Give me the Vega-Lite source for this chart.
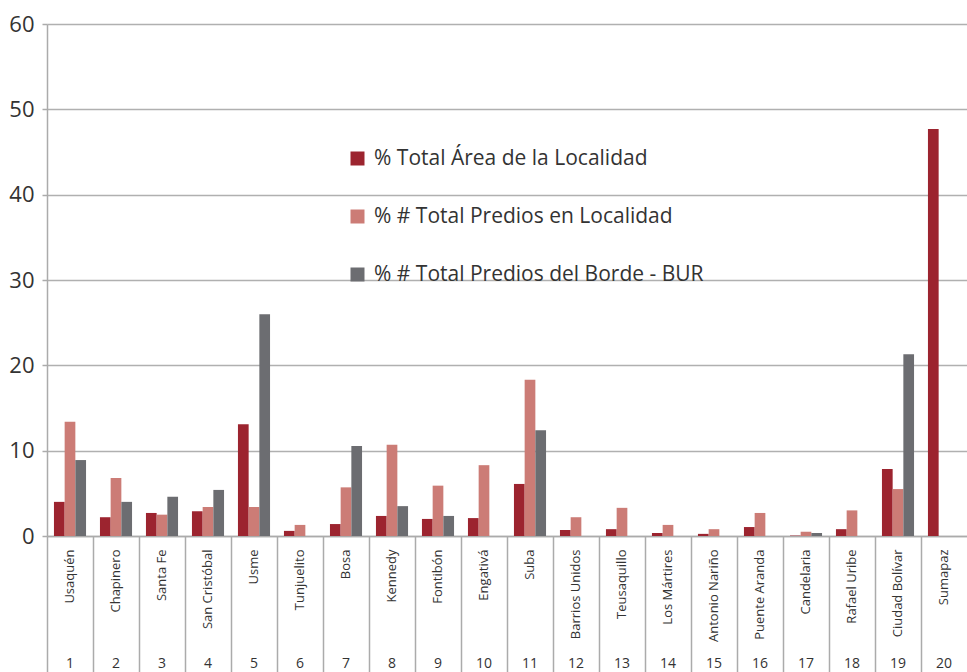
{
  "$schema": "https://vega.github.io/schema/vega-lite/v6.json",
  "width": 920,
  "height": 512,
  "autosize": {"type": "none"},
  "padding": {"left": 47, "top": 24, "right": 0, "bottom": 136},
  "config": {
    "font": "Open Sans",
    "view": {"stroke": null},
    "axis": {"labelColor": "#333333", "titleColor": "#333333"}
  },
  "data": {
    "values": [
      {"n": 1, "loc": "Usaquén", "serie": "% Total Área de la Localidad", "v": 4.0},
      {"n": 1, "loc": "Usaquén", "serie": "% # Total Predios en Localidad", "v": 13.4},
      {"n": 1, "loc": "Usaquén", "serie": "% # Total Predios del Borde - BUR", "v": 8.9},
      {"n": 2, "loc": "Chapinero", "serie": "% Total Área de la Localidad", "v": 2.2},
      {"n": 2, "loc": "Chapinero", "serie": "% # Total Predios en Localidad", "v": 6.8},
      {"n": 2, "loc": "Chapinero", "serie": "% # Total Predios del Borde - BUR", "v": 4.0},
      {"n": 3, "loc": "Santa Fe", "serie": "% Total Área de la Localidad", "v": 2.7},
      {"n": 3, "loc": "Santa Fe", "serie": "% # Total Predios en Localidad", "v": 2.5},
      {"n": 3, "loc": "Santa Fe", "serie": "% # Total Predios del Borde - BUR", "v": 4.6},
      {"n": 4, "loc": "San Cristóbal", "serie": "% Total Área de la Localidad", "v": 2.9},
      {"n": 4, "loc": "San Cristóbal", "serie": "% # Total Predios en Localidad", "v": 3.4},
      {"n": 4, "loc": "San Cristóbal", "serie": "% # Total Predios del Borde - BUR", "v": 5.4},
      {"n": 5, "loc": "Usme", "serie": "% Total Área de la Localidad", "v": 13.1},
      {"n": 5, "loc": "Usme", "serie": "% # Total Predios en Localidad", "v": 3.4},
      {"n": 5, "loc": "Usme", "serie": "% # Total Predios del Borde - BUR", "v": 26.0},
      {"n": 6, "loc": "Tunjuelito", "serie": "% Total Área de la Localidad", "v": 0.6},
      {"n": 6, "loc": "Tunjuelito", "serie": "% # Total Predios en Localidad", "v": 1.3},
      {"n": 7, "loc": "Bosa", "serie": "% Total Área de la Localidad", "v": 1.4},
      {"n": 7, "loc": "Bosa", "serie": "% # Total Predios en Localidad", "v": 5.7},
      {"n": 7, "loc": "Bosa", "serie": "% # Total Predios del Borde - BUR", "v": 10.55},
      {"n": 8, "loc": "Kennedy", "serie": "% Total Área de la Localidad", "v": 2.35},
      {"n": 8, "loc": "Kennedy", "serie": "% # Total Predios en Localidad", "v": 10.7},
      {"n": 8, "loc": "Kennedy", "serie": "% # Total Predios del Borde - BUR", "v": 3.5},
      {"n": 9, "loc": "Fontibón", "serie": "% Total Área de la Localidad", "v": 2.0},
      {"n": 9, "loc": "Fontibón", "serie": "% # Total Predios en Localidad", "v": 5.9},
      {"n": 9, "loc": "Fontibón", "serie": "% # Total Predios del Borde - BUR", "v": 2.35},
      {"n": 10, "loc": "Engativá", "serie": "% Total Área de la Localidad", "v": 2.1},
      {"n": 10, "loc": "Engativá", "serie": "% # Total Predios en Localidad", "v": 8.3},
      {"n": 11, "loc": "Suba", "serie": "% Total Área de la Localidad", "v": 6.1},
      {"n": 11, "loc": "Suba", "serie": "% # Total Predios en Localidad", "v": 18.3},
      {"n": 11, "loc": "Suba", "serie": "% # Total Predios del Borde - BUR", "v": 12.4},
      {"n": 12, "loc": "Barrios Unidos", "serie": "% Total Área de la Localidad", "v": 0.7},
      {"n": 12, "loc": "Barrios Unidos", "serie": "% # Total Predios en Localidad", "v": 2.2},
      {"n": 13, "loc": "Teusaquillo", "serie": "% Total Área de la Localidad", "v": 0.8},
      {"n": 13, "loc": "Teusaquillo", "serie": "% # Total Predios en Localidad", "v": 3.3},
      {"n": 14, "loc": "Los Mártires", "serie": "% Total Área de la Localidad", "v": 0.35},
      {"n": 14, "loc": "Los Mártires", "serie": "% # Total Predios en Localidad", "v": 1.3},
      {"n": 15, "loc": "Antonio Nariño", "serie": "% Total Área de la Localidad", "v": 0.25},
      {"n": 15, "loc": "Antonio Nariño", "serie": "% # Total Predios en Localidad", "v": 0.8},
      {"n": 16, "loc": "Puente Aranda", "serie": "% Total Área de la Localidad", "v": 1.05},
      {"n": 16, "loc": "Puente Aranda", "serie": "% # Total Predios en Localidad", "v": 2.7},
      {"n": 17, "loc": "Candelaria", "serie": "% Total Área de la Localidad", "v": 0.05},
      {"n": 17, "loc": "Candelaria", "serie": "% # Total Predios en Localidad", "v": 0.5},
      {"n": 17, "loc": "Candelaria", "serie": "% # Total Predios del Borde - BUR", "v": 0.35},
      {"n": 18, "loc": "Rafael Uribe", "serie": "% Total Área de la Localidad", "v": 0.8},
      {"n": 18, "loc": "Rafael Uribe", "serie": "% # Total Predios en Localidad", "v": 3.0},
      {"n": 19, "loc": "Ciudad Bolívar", "serie": "% Total Área de la Localidad", "v": 7.85},
      {"n": 19, "loc": "Ciudad Bolívar", "serie": "% # Total Predios en Localidad", "v": 5.5},
      {"n": 19, "loc": "Ciudad Bolívar", "serie": "% # Total Predios del Borde - BUR", "v": 21.3},
      {"n": 20, "loc": "Sumapaz", "serie": "% Total Área de la Localidad", "v": 47.7}
    ]
  },
  "transform": [{"calculate": "datum.n + '|' + datum.loc", "as": "key"}],
  "encoding": {
    "y": {
      "field": "v",
      "type": "quantitative",
      "scale": {"domain": [0, 60], "nice": false},
      "axis": {
        "title": null,
        "values": [0, 10, 20, 30, 40, 50, 60],
        "labelFontSize": 22,
        "labelPadding": 8,
        "tickSize": 5,
        "tickColor": "#ababab",
        "tickWidth": 1.5,
        "domainColor": "#ababab",
        "domainWidth": 1.5,
        "gridColor": "#b0b0b0",
        "gridWidth": 1.3
      }
    }
  },
  "layer": [
    {
      "mark": {"type": "bar"},
      "encoding": {
        "x": {
          "field": "key",
          "type": "nominal",
          "sort": {"field": "n", "op": "min"},
          "scale": {"paddingInner": 0, "paddingOuter": 0},
          "axis": {
            "orient": "bottom",
            "title": null,
            "grid": false,
            "ticks": false,
            "domain": true,
            "domainColor": "#ababab",
            "domainWidth": 1.5,
            "labelAngle": -90,
            "labelAlign": "right",
            "labelBaseline": "middle",
            "labelPadding": 13,
            "labelFontSize": 13,
            "labelOverlap": false,
            "labelExpr": "split(datum.value, '|')[1]"
          }
        },
        "xOffset": {
          "field": "serie",
          "type": "nominal",
          "scale": {
            "domain": ["% Total Área de la Localidad", "% # Total Predios en Localidad", "% # Total Predios del Borde - BUR"],
            "paddingInner": 0,
            "paddingOuter": 0.65
          }
        },
        "color": {
          "field": "serie",
          "type": "nominal",
          "scale": {
            "domain": ["% Total Área de la Localidad", "% # Total Predios en Localidad", "% # Total Predios del Borde - BUR"],
            "range": ["#9c242f", "#cc7c76", "#6c6d71"]
          },
          "legend": {
            "orient": "none",
            "legendX": 300,
            "legendY": 124,
            "title": null,
            "padding": 0,
            "symbolType": "square",
            "symbolSize": 196,
            "symbolStrokeWidth": 0,
            "labelFontSize": 21,
            "labelLimit": 0,
            "labelColor": "#333333",
            "labelOffset": 6,
            "rowPadding": 36
          }
        }
      }
    },
    {
      "mark": {"type": "bar", "opacity": 0},
      "encoding": {
        "x": {
          "field": "key",
          "type": "nominal",
          "sort": {"field": "n", "op": "min"},
          "axis": {
            "orient": "bottom",
            "title": null,
            "grid": false,
            "labels": false,
            "domain": false,
            "ticks": true,
            "bandPosition": 0,
            "tickSize": 136,
            "tickColor": "#ababab",
            "tickWidth": 1.5
          }
        }
      }
    },
    {
      "mark": {"type": "bar", "opacity": 0},
      "encoding": {
        "x": {
          "field": "key",
          "type": "nominal",
          "sort": {"field": "n", "op": "min"},
          "axis": {
            "orient": "bottom",
            "title": null,
            "grid": false,
            "ticks": false,
            "domain": false,
            "labelAngle": 0,
            "labelAlign": "center",
            "labelBaseline": "top",
            "labelPadding": 120,
            "labelFontSize": 14,
            "labelOverlap": false,
            "labelExpr": "split(datum.value, '|')[0]"
          }
        }
      }
    }
  ],
  "resolve": {"axis": {"x": "independent"}}
}
